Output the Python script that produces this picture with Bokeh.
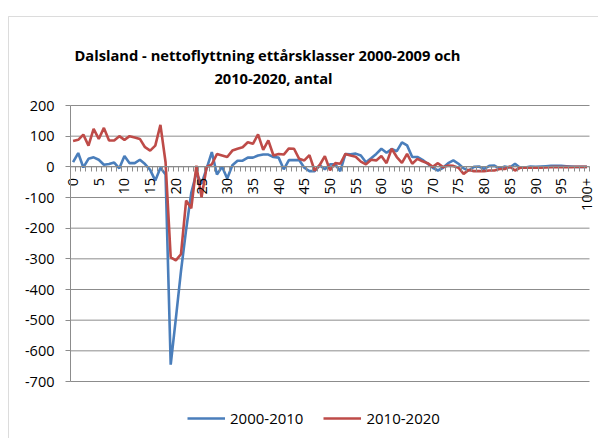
import math
from bokeh.plotting import figure
from bokeh.models import (Range1d, FixedTicker, LinearAxis, Legend, LegendItem,
                          Label, BoxAnnotation, ColumnDataSource)
from bokeh.embed import file_html
from bokeh.resources import INLINE

title_line1 = "Dalsland - nettoflyttning ettårsklasser 2000-2009 och"
title_line2 = "2010-2020, antal"
series_names = ["2000-2010", "2010-2020"]

ages = list(range(101))
x_tick_positions = list(range(0, 101, 5))
x_tick_labels = [str(a) for a in range(0, 100, 5)] + ["100+"]

y_ticks = [-700, -600, -500, -400, -300, -200, -100, 0, 100, 200]
y_tick_labels = ["-700", "-600", "-500", "-400", "-300", "-200", "-100", "0", "100", "200"]

blue = [15, 45, -2, 26, 31, 23, 7, 9, 14, -5,
        35, 12, 12, 23, 9, -10, -45, -3, -25, -645,
        -495, -340, -205, -85, -20, -55, -5, 48, -25, 0,
        -38, 5, 20, 20, 30, 30, 37, 40, 40, 32,
        30, -8, 22, 22, 22, -3, -14, -14, 5, -8,
        8, 8, -14, 42, 41, 43, 37, 15, 28, 42,
        59, 46, 58, 51, 80, 70, 32, 32, 23, 10,
        -3, -12, -3, 12, 21, 10, -5, -12, 0, 1,
        -7, 3, 4, -6, 1, -2, 10, -3, -2, 1,
        0, 1, 2, 3, 3, 3, 2, 1, 0, 0,
        0]

red = [84, 88, 105, 69, 124, 91, 127, 86, 86, 100,
       88, 100, 96, 91, 64, 53, 69, 137, 15, -295,
       -305, -285, -110, -135, 4, -99, 0, 8, 42, 37,
       32, 53, 59, 64, 80, 75, 106, 55, 86, 37,
       42, 40, 60, 59, 26, 21, 38, -12, 6, 35,
       -11, 12, 10, 42, 37, 33, 17, 8, 23, 21,
       35, 12, 59, 32, 13, 42, 10, 26, 18, 12,
       0, 12, -1, 4, 3, -3, -23, -10, -14, -14,
       -14, -12, -12, -7, -7, 1, -12, -3, -3, -3,
       -2, -3, -2, -1, 0, -1, 0, -1, 0, 0,
       0]

BLUE = "#4A7EBB"
RED = "#BE4B48"
GRID = "#8C8C8C"
FONT = "Open Sans"

W, H = 598, 438
# plot area: category -0.5 at x=70px, 100.5 at x=589px; value 200 at y~105px, -700 at y~381px
pxx = (589 - 70) / 101.0
pxy = (381 - 105) / 900.0
x0 = -0.5 - 70 / pxx
x1 = 100.5 + (W - 589) / pxx
y1 = 200 + 105 / pxy
y0 = -700 - (H - 381) / pxy
cat_lo, cat_hi = -0.5, 100.5

src = ColumnDataSource(dict(age=ages, blue=blue, red=red))
grid_src = ColumnDataSource(dict(y=y_ticks, x0=[cat_lo] * len(y_ticks),
                                 x1=[cat_hi] * len(y_ticks)))

p = figure(width=W, height=H, output_backend="svg", toolbar_location=None,
           x_range=Range1d(x0, x1), y_range=Range1d(y0, y1),
           min_border_left=0, min_border_right=0, min_border_top=0,
           min_border_bottom=0, x_axis_type=None, y_axis_type=None)
p.outline_line_color = None
p.background_fill_color = "white"
p.border_fill_color = "white"
p.xgrid.grid_line_color = None
p.ygrid.grid_line_color = None

# horizontal gridlines limited to the plot area
p.segment(x0="x0", y0="y", x1="x1", y1="y", source=grid_src,
          line_color=GRID, line_width=1, level="underlay")

# y axis
yax = LinearAxis(ticker=FixedTicker(ticks=y_ticks), bounds=(-700, 200), fixed_location=cat_lo)
yax.major_label_overrides = {t: s for t, s in zip(y_ticks, y_tick_labels)}
yax.axis_line_color = GRID
yax.major_tick_line_color = GRID
yax.major_tick_in = 0
yax.major_tick_out = 5
yax.minor_tick_line_color = None
yax.major_label_standoff = 11
yax.major_label_text_font = FONT
yax.major_label_text_font_size = "14.5px"
yax.major_label_text_color = "#000000"
p.add_layout(yax, "left")

# x axis: tick marks at category boundaries
xtick_ax = LinearAxis(ticker=FixedTicker(ticks=[a - 0.5 for a in range(102)]),
                      fixed_location=0, bounds=(cat_lo, cat_hi))
xtick_ax.major_label_text_font_size = "0px"
xtick_ax.major_label_text_color = None
xtick_ax.axis_line_color = GRID
xtick_ax.major_tick_line_color = GRID
xtick_ax.major_tick_in = 0
xtick_ax.major_tick_out = 5
xtick_ax.minor_tick_line_color = None
p.add_layout(xtick_ax, "below")

# x axis: labels
xlab_ax = LinearAxis(ticker=FixedTicker(ticks=x_tick_positions), fixed_location=0)
xlab_ax.major_label_overrides = {t: s for t, s in zip(x_tick_positions, x_tick_labels)}
xlab_ax.major_label_orientation = math.pi / 2
xlab_ax.axis_line_color = None
xlab_ax.major_tick_line_color = None
xlab_ax.minor_tick_line_color = None
xlab_ax.major_label_standoff = 5
xlab_ax.major_label_text_font = FONT
xlab_ax.major_label_text_font_size = "14.5px"
xlab_ax.major_label_text_color = "#000000"
p.add_layout(xlab_ax, "below")

r1 = p.line("age", "blue", source=src, line_color=BLUE, line_width=2.6)
r2 = p.line("age", "red", source=src, line_color=RED, line_width=2.6)

legend = Legend(items=[LegendItem(label=series_names[0], renderers=[r1]),
                       LegendItem(label=series_names[1], renderers=[r2])],
                orientation="horizontal", location=(187, 10),
                glyph_width=38, glyph_height=16, label_standoff=5, spacing=20,
                padding=0, margin=0, border_line_color=None,
                background_fill_alpha=0,
                label_text_font=FONT, label_text_font_size="15px",
                label_text_color="#000000")
p.add_layout(legend, "center")

t1 = Label(x=267, y=H - 54, x_units="screen", y_units="screen", text=title_line1,
           text_align="center", text_baseline="middle", text_font=FONT,
           text_font_size="14.7px", text_font_style="bold", text_color="#000000")
t2 = Label(x=273, y=H - 77, x_units="screen", y_units="screen", text=title_line2,
           text_align="center", text_baseline="middle", text_font=FONT,
           text_font_size="14.7px", text_font_style="bold", text_color="#000000")
p.add_layout(t1)
p.add_layout(t2)

border = BoxAnnotation(left=8, right=W + 20, top=H - 16, bottom=-20,
                       left_units="screen", right_units="screen",
                       top_units="screen", bottom_units="screen",
                       fill_alpha=0, line_color=GRID, line_width=1)
p.add_layout(border)

open("out.html", "w").write(file_html(p, INLINE))
